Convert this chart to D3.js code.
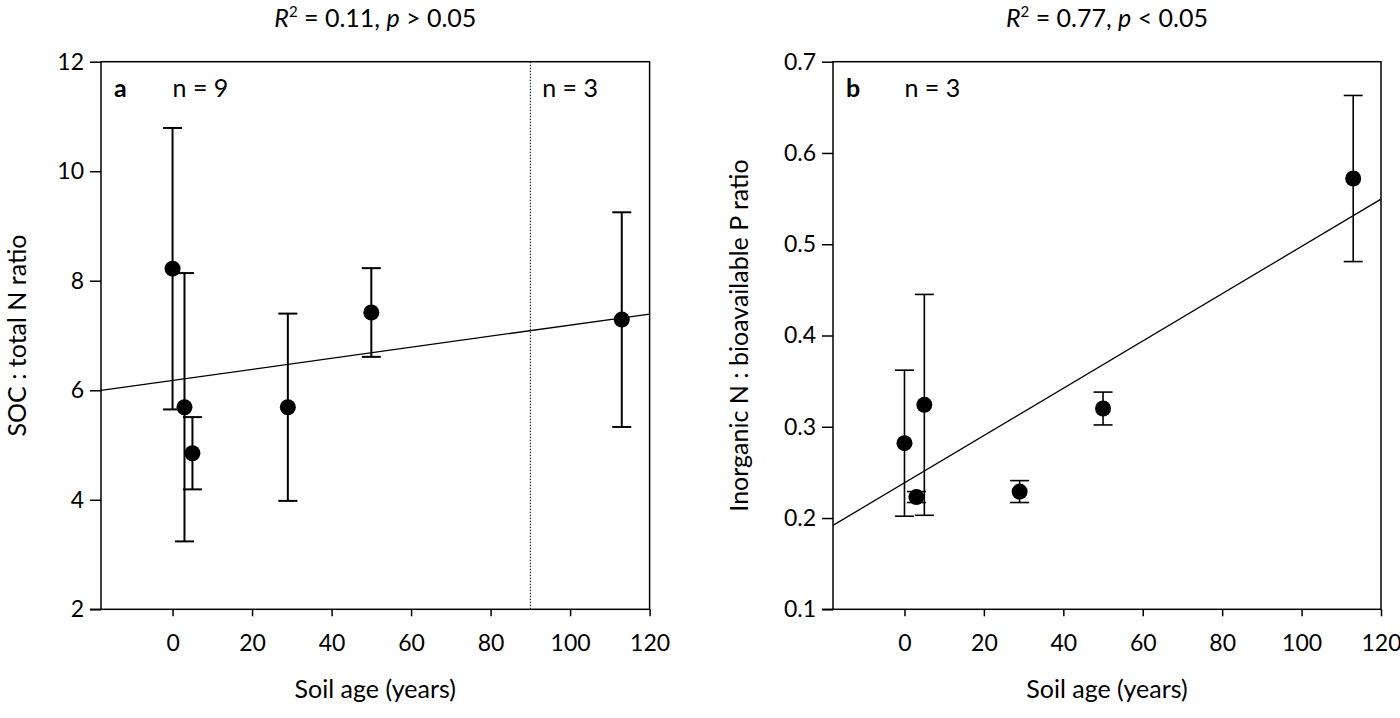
<!DOCTYPE html>
<html>
<head>
<meta charset="utf-8">
<script src="https://cdn.jsdelivr.net/npm/d3@7"></script>
<style>
  body { margin: 0; background: #fff; }
  text { font-family: Lato, "Open Sans", sans-serif; fill: #000; }
</style>
</head>
<body>
<svg id="chart" width="1400" height="718"></svg>
<script>
// soil age of each site (years)
const ages = [0, 3, 5, 29, 50, 113];

// panel a: SOC : total N ratio
const socN = [8.22, 5.69, 4.85, 5.69, 7.42, 7.29];
const socNErr = [2.57, 2.45, 0.66, 1.71, 0.81, 1.96];
const socFit = [6.18, 0.0101];      // intercept, slope
const socTicks = [2, 4, 6, 8, 10, 12];

// panel b: inorganic N : bioavailable P ratio
const nP = [0.282, 0.223, 0.324, 0.229, 0.320, 0.572];
const nPErr = [0.080, 0.006, 0.121, 0.012, 0.018, 0.091];
const nPFit = [0.2386, 0.00259];
const nPTicks = [0.1, 0.2, 0.3, 0.4, 0.5, 0.6, 0.7];

const ageTicks = [0, 20, 40, 60, 80, 100, 120];

const svg = d3.select("#chart");
const plotTop = 61.7, plotBottom = 609.3;

function drawPanel(opt) {
  const x = d3.scaleLinear().domain([-18, 120]).range([opt.left, opt.right]);
  const y = d3.scaleLinear().domain(opt.yDomain).range([plotBottom, plotTop]);
  const g = svg.append("g");

  // box
  g.append("rect")
    .attr("x", opt.left).attr("y", plotTop)
    .attr("width", opt.right - opt.left).attr("height", plotBottom - plotTop)
    .attr("fill", "none").attr("stroke", "#000").attr("stroke-width", 1.5);

  // y axis
  const yAxis = g.append("g")
    .attr("transform", `translate(${opt.left},0)`)
    .call(d3.axisLeft(y).tickValues(opt.yTicks).tickSize(11).tickPadding(6).tickFormat(opt.yFormat));
  // x axis
  const xAxis = g.append("g")
    .attr("transform", `translate(0,${plotBottom})`)
    .call(d3.axisBottom(x).tickValues(ageTicks).tickSize(7).tickPadding(18));
  [yAxis, xAxis].forEach(a => {
    a.select(".domain").remove();
    a.selectAll("line").attr("stroke", "#000").attr("stroke-width", 1.5);
    a.selectAll("text").style("font-size", "23px").style("font-family", "Lato, 'Open Sans', sans-serif");
  });
  xAxis.append("line").attr("x1", opt.left - 11).attr("x2", opt.left)
    .attr("stroke", "#000").attr("stroke-width", 1.5);

  if (opt.divider !== undefined) {
    g.append("line")
      .attr("x1", x(opt.divider)).attr("x2", x(opt.divider))
      .attr("y1", plotTop).attr("y2", plotBottom)
      .attr("stroke", "#000").attr("stroke-width", 1).attr("stroke-dasharray", "1.5,1.5");
  }

  // regression line across the frame
  const fx = x.domain();
  g.append("line")
    .attr("x1", x(fx[0])).attr("y1", y(opt.fit[0] + opt.fit[1] * fx[0]))
    .attr("x2", x(fx[1])).attr("y2", y(opt.fit[0] + opt.fit[1] * fx[1]))
    .attr("stroke", "#000").attr("stroke-width", 1.3);

  // error bars
  const pts = ages.map((a, i) => ({ a, v: opt.values[i], e: opt.errs[i] }));
  const eb = g.append("g").selectAll("g").data(pts).enter().append("g")
    .attr("stroke", "#000").attr("stroke-width", opt.ebWidth);
  eb.append("line")
    .attr("x1", d => x(d.a)).attr("x2", d => x(d.a))
    .attr("y1", d => y(d.v - d.e)).attr("y2", d => y(d.v + d.e));
  eb.append("line")
    .attr("x1", d => x(d.a) - 9.5).attr("x2", d => x(d.a) + 9.5)
    .attr("y1", d => y(d.v + d.e)).attr("y2", d => y(d.v + d.e));
  eb.append("line")
    .attr("x1", d => x(d.a) - 9.5).attr("x2", d => x(d.a) + 9.5)
    .attr("y1", d => y(d.v - d.e)).attr("y2", d => y(d.v - d.e));

  g.append("g").selectAll("circle").data(pts).enter().append("circle")
    .attr("cx", d => x(d.a)).attr("cy", d => y(d.v)).attr("r", 8)
    .attr("fill", "#000");

  // title
  const cx = (opt.left + opt.right) / 2;
  const t = g.append("text").attr("x", cx).attr("y", 27)
    .attr("text-anchor", "middle").style("font-size", "25px");
  t.append("tspan").style("font-style", "italic").text("R");
  t.append("tspan").attr("dy", -10).style("font-size", "15px").text("2");
  t.append("tspan").attr("dy", 10).text(" = " + opt.r2 + ", ");
  t.append("tspan").style("font-style", "italic").text("p");
  t.append("tspan").text(" " + opt.pText);

  // panel letter and n labels
  g.append("text").attr("x", opt.left + 13).attr("y", 97)
    .style("font-size", "25px").style("font-weight", "bold").text(opt.letter);
  opt.nLabels.forEach(n => {
    g.append("text").attr("x", x(n.at)).attr("y", 97)
      .style("font-size", "25px").text(n.text);
  });

  // axis titles
  g.append("text").attr("x", cx).attr("y", 698)
    .attr("text-anchor", "middle").style("font-size", "25px").text("Soil age (years)");
  g.append("text")
    .attr("transform", `translate(${opt.left - opt.yLabelOff},${(plotTop + plotBottom) / 2}) rotate(-90)`)
    .attr("text-anchor", "middle").style("font-size", "25px").text(opt.yLabel);
}

drawPanel({
  left: 101, right: 649.6, yDomain: [2, 12], yTicks: socTicks, yFormat: d3.format("d"),
  values: socN, errs: socNErr, fit: socFit, divider: 90, ebWidth: 2,
  r2: "0.11", pText: "> 0.05", letter: "a",
  nLabels: [{ at: 0, text: "n = 9" }, { at: 93, text: "n = 3" }],
  yLabel: "SOC : total N ratio", yLabelOff: 75
});

drawPanel({
  left: 833, right: 1381, yDomain: [0.1, 0.7], yTicks: nPTicks, yFormat: d3.format(".1f"),
  values: nP, errs: nPErr, fit: nPFit, ebWidth: 1.6,
  r2: "0.77", pText: "< 0.05", letter: "b",
  nLabels: [{ at: 0, text: "n = 3" }],
  yLabel: "Inorganic N : bioavailable P ratio", yLabelOff: 85
});
</script>
</body>
</html>
